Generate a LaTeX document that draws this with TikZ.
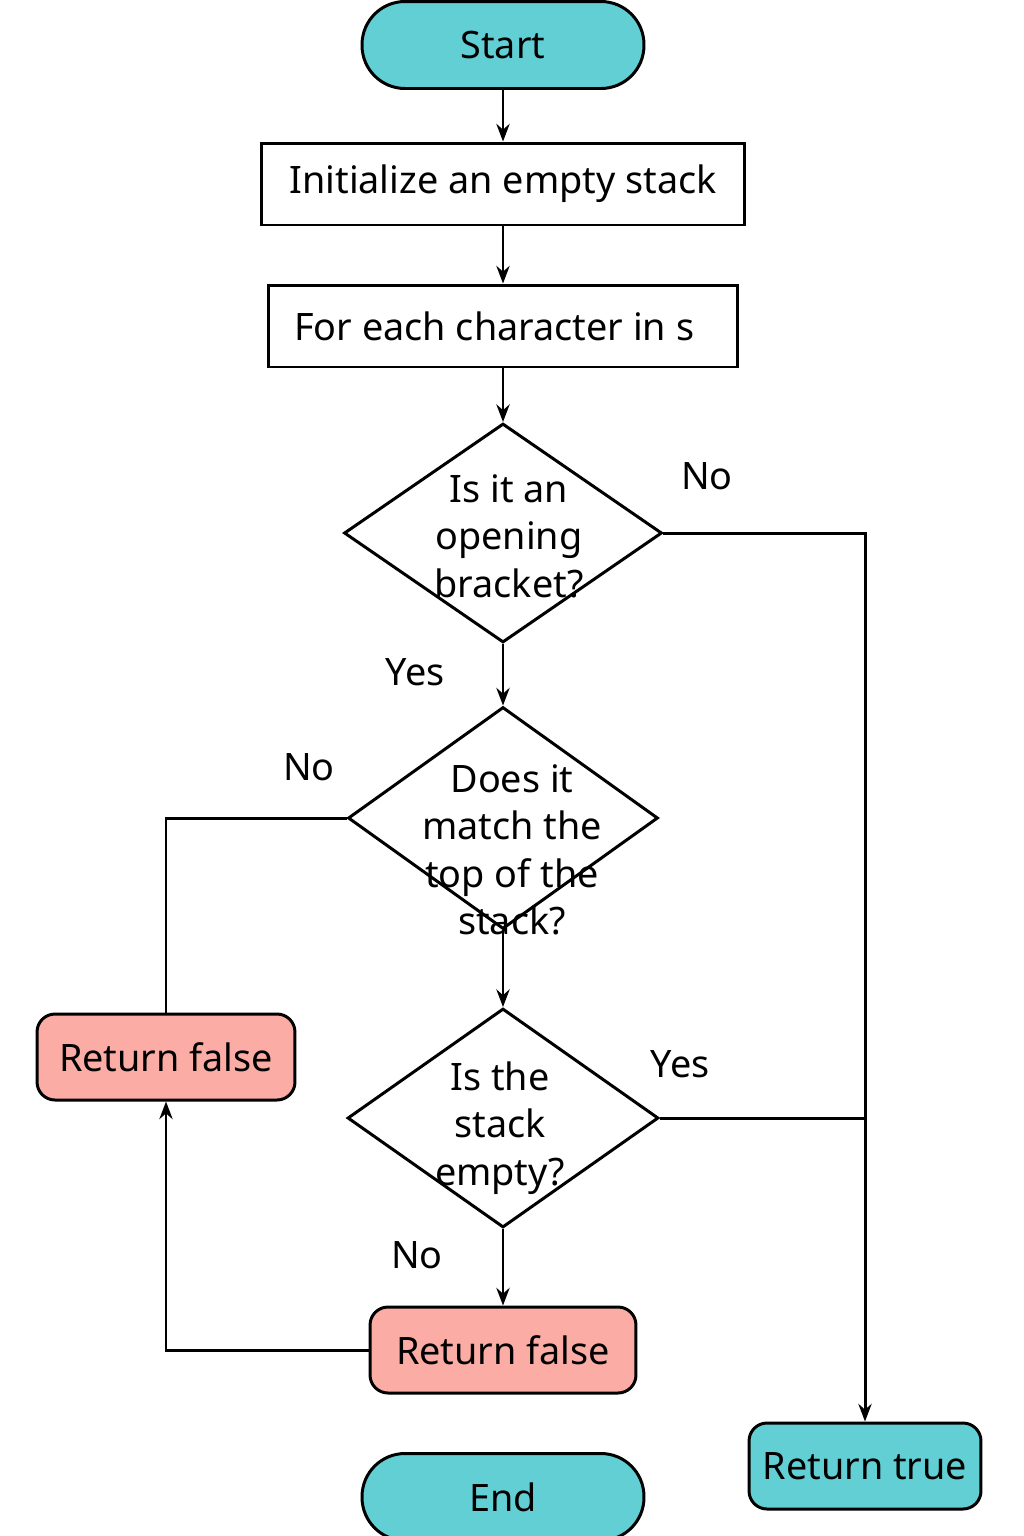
\documentclass[tikz,border=0pt]{standalone}
\usepackage{fontspec}
\setmainfont{Noto Sans}
\usepackage{tikz}
\usetikzlibrary{arrows.meta, positioning, shapes.geometric}
\usepackage{xcolor}
\definecolor{termcyan}{HTML}{62CFD4}
\definecolor{falsepink}{HTML}{FBADA5}

\begin{document}
\begin{tikzpicture}[x=0.02cm, y=-0.02cm, line width=1.7pt,
        every node/.style={font=\fontsize{21.5}{27}\selectfont},
        terminal/.style={draw, fill=termcyan, rounded corners=0.86cm, minimum width=5.64cm, minimum height=1.74cm},
        process/.style={draw, minimum height=1.64cm},
        decision/.style={draw, diamond, inner sep=0pt},
        result/.style={draw, rounded corners=0.36cm, minimum height=1.72cm},
        qtext/.style={align=center},
        conn/.style={-{Stealth[length=10pt, width=7.5pt]}}]
    \useasboundingbox (0,0) rectangle (1024,1536);
    \clip (0,0) rectangle (1024,1536);
    \node[terminal] (start) at (503,45) {Start};
    \node[process, minimum width=9.66cm] (init) at (503,184) {Initialize an empty stack};
    \node[process, minimum width=9.38cm] (loop) at (503,326) {\hspace*{-0.35cm}For each character in s};
    \node[decision, minimum width=6.36cm, minimum height=4.38cm] (open) at (503,533) {};
    \node[qtext] at (509,536) {Is it an\\opening\\bracket?};
    \node[decision, minimum width=6.2cm, minimum height=4.44cm] (match) at (503,818) {};
    \node[qtext] at (512,850) {Does it\\match the\\top of the\\stack?};
    \node[decision, minimum width=6.22cm, minimum height=4.38cm] (empty) at (503,1118) {};
    \node[qtext] at (500,1128) {Is the\\stack\\empty?};
    \node[result, fill=falsepink, minimum width=5.16cm] (falseA) at (166,1057) {Return false};
    \node[result, fill=falsepink, minimum width=5.32cm] (falseB) at (503,1350) {Return false};
    \node[result, fill=termcyan, minimum width=4.64cm] (true) at (865,1466) {Return true};
    \node[terminal] (end) at (503,1497) {End};

    \draw[conn] (start) -- (init);
    \draw[conn] (init) -- (loop);
    \draw[conn] (loop) -- (open);
    \draw[conn] (open) -- (match);
    \draw[conn] (match) -- (empty);
    \draw[conn] (empty) -- (falseB);
    \draw[conn] (open.east) -| (true.north);
    \draw (empty.east) -- (empty.east -| true.north);
    \draw (match.west) -| (falseA.north);
    \draw[conn] (falseB.west) -| (falseA.south);

    \node at (707,476) {No};
    \node at (415,672) {Yes};
    \node at (309,767) {No};
    \node at (680,1064) {Yes};
    \node at (417,1255) {No};
\end{tikzpicture}
\end{document}
